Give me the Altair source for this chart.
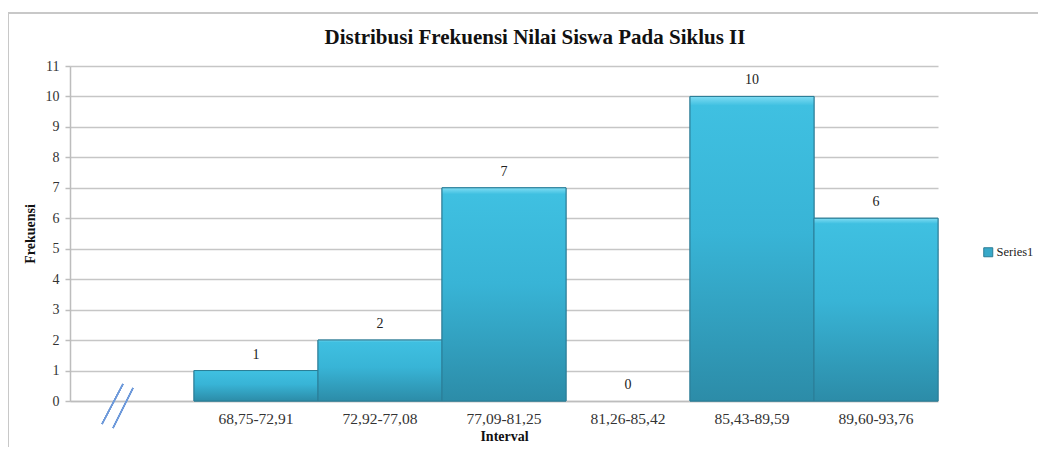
import altair as alt
import pandas as pd

categories = [" ", "68,75-72,91", "72,92-77,08", "77,09-81,25", "81,26-85,42", "85,43-89,59", "89,60-93,76"]
values = [None, 1, 2, 7, 0, 10, 6]
series = ["Series1"] * len(categories)
y_ticks = list(range(0, 12))
title_text = ["Distribusi Frekuensi Nilai Siswa Pada Siklus II"]

df = pd.DataFrame({"Interval": categories, "Frekuensi": values, "Series": series})
df_lab = df.dropna()
df_bar = df_lab[df_lab["Frekuensi"] > 0]
df_title = pd.DataFrame({"t": title_text})

FONT = "Liberation Serif"
W, H = 868, 335

xenc = alt.X("Interval:N", sort=categories,
             scale=alt.Scale(domain=categories, paddingInner=0, paddingOuter=0),
             axis=alt.Axis(title="Interval", labelAngle=0, ticks=False, labelPadding=10,
                           labelFontSize=15.5, labelFont=FONT, labelColor="#333333",
                           titleFont=FONT, titleFontSize=14, titleFontWeight="bold",
                           titleColor="#111111", titlePadding=3,
                           domainColor="#bdbdbd", domainWidth=1.5, grid=False))
yscale = alt.Scale(domain=[0, 11], nice=False)
yaxis = alt.Axis(title="Frekuensi", values=y_ticks, tickCount=20, labelOverlap=False,
                 format="d",
                 tickSize=5, tickColor="#bdbdbd", tickWidth=1.5,
                 labelFontSize=14, labelFont=FONT, labelColor="#333333", labelPadding=6,
                 titleFont=FONT, titleFontSize=14, titleFontWeight="bold", titleColor="#111111",
                 titlePadding=8, domainColor="#bdbdbd", domainWidth=1.5,
                 grid=True, gridColor="#c6c6c6", gridWidth=1.5)
yenc = alt.Y("Frekuensi:Q", scale=yscale, axis=yaxis)

base = alt.Chart(df)
bars_base = alt.Chart(df_bar)

legend_bars = bars_base.mark_bar(stroke="#2a7d96", strokeWidth=1).encode(
    x=xenc,
    y=yenc,
    color=alt.Color("Series:N", scale=alt.Scale(range=["#38a9c9"]),
                    legend=alt.Legend(title=None, orient="none", legendX=912, legendY=180,
                                      symbolType="square", symbolSize=81,
                                      symbolStrokeColor="#2a7d96", symbolStrokeWidth=1,
                                      labelFont=FONT, labelFontSize=12.5, labelColor="#222222",
                                      labelOffset=2)),
)

grad = alt.Gradient(gradient="linear", x1=0, x2=0, y1=0, y2=1,
                    stops=[alt.GradientStop(color="#7fdcf3", offset=0),
                           alt.GradientStop(color="#3fc0e1", offset=0.03),
                           alt.GradientStop(color="#38b4d6", offset=0.45),
                           alt.GradientStop(color="#2c8ca8", offset=1)])
grad_bars = bars_base.mark_bar(fill=grad, stroke="#2a7d96", strokeWidth=1).encode(
    x=xenc,
    y=yenc,
)

labels = alt.Chart(df_lab).mark_text(baseline="bottom", dy=-9, font=FONT, fontSize=14,
                                      color="#222222").encode(
    x=xenc,
    y=yenc,
    text=alt.Text("Frekuensi:Q", format="d"),
)

title = alt.Chart(df_title).mark_text(font=FONT, fontSize=21, fontWeight="bold",
                                      color="#111111", baseline="middle", align="center",
                                      clip=False).encode(
    x=alt.value(465), y=alt.value(-28), text="t:N")

# axis break marks and outer chart frame (decoration)
brk1 = base.mark_rule(color="#6f9ada", strokeWidth=1.3).encode(
    x=alt.value(53), x2=alt.value(32), y=alt.value(318), y2=alt.value(358))
brk2 = base.mark_rule(color="#6f9ada", strokeWidth=1.3).encode(
    x=alt.value(63), x2=alt.value(43), y=alt.value(322), y2=alt.value(362))
frame_top = base.mark_rule(color="#c8c8c8", strokeWidth=2, clip=False).encode(
    x=alt.value(-62), x2=alt.value(968), y=alt.value(-53))
frame_left = base.mark_rule(color="#c8c8c8", strokeWidth=2, clip=False).encode(
    x=alt.value(-62), y=alt.value(-53), y2=alt.value(381))

chart = alt.layer(legend_bars, grad_bars, labels, title, brk1, brk2, frame_top, frame_left).properties(
    width=W, height=H,
    autosize=alt.AutoSizeParams(type="none"),
    padding={"left": 62, "top": 58, "right": 100, "bottom": 47},
).configure(background="white").configure_view(stroke=None)

chart.save("out.html", embed_options={"renderer": "svg", "actions": False})
